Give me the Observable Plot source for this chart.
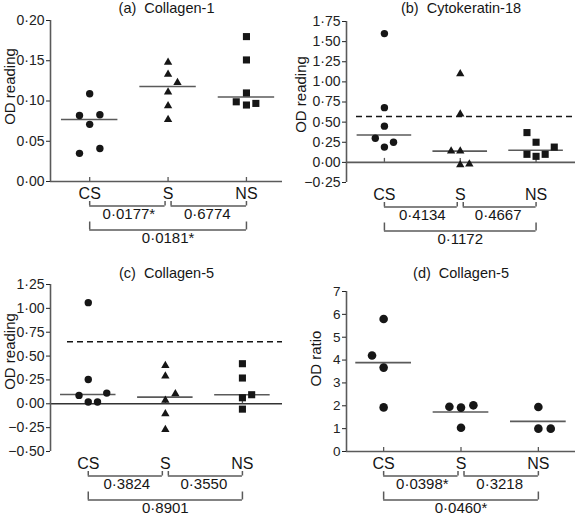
<!DOCTYPE html>
<html><head><meta charset="utf-8">
<script src="https://cdn.jsdelivr.net/npm/d3@7"></script>
<script src="https://cdn.jsdelivr.net/npm/@observablehq/plot@0.6"></script>
<style>
body{margin:0;background:#fff;}
#fig{position:relative;width:577px;height:516px;font-family:"Liberation Sans",Arial,sans-serif;}
.panel{position:absolute;}
.panel svg{display:block;}
</style></head><body><div id="fig"></div>
<script>
// ---------- data ----------
const groups = ["CS", "S", "NS"];
const comparisons = [["CS", "S", 1], ["S", "NS", 1], ["CS", "NS", 2]];

// (a) Collagen-1
const aCS = [0.109, 0.082, 0.083, 0.071, 0.035, 0.041];
const aS  = [0.148, 0.133, 0.123, 0.111, 0.094, 0.077];
const aNS = [0.180, 0.151, 0.110, 0.099, 0.095, 0.097];
const aJitCS = [0, -0.13, 0.13, 0, -0.13, 0.13];
const aJitS  = [0, 0, 0.12, 0, 0, 0];
const aJitNS = [0, 0, 0, -0.13, 0, 0.12];
const aMedians = [0.077, 0.118, 0.105];
const aTicks = [0, 0.05, 0.10, 0.15, 0.20];
const aP = ["0·0177*", "0·6774", "0·0181*"];

// (b) Cytokeratin-18
const bCS = [1.60, 0.68, 0.45, 0.30, 0.25, 0.19];
const bS  = [1.10, 0.60, 0.14, 0.14, -0.03, -0.02];
const bNS = [0.37, 0.25, 0.10, 0.075, 0.10, 0.19];
const bJitCS = [0, 0, 0, -0.12, 0.12, 0];
const bJitS  = [0, 0, -0.12, 0, 0, 0.12];
const bJitNS = [-0.12, 0, -0.12, 0, 0.12, 0.24];
const bMedians = [0.34, 0.14, 0.15];
const bCutoff = 0.57;
const bTicks = [-0.25, 0, 0.25, 0.5, 0.75, 1.0, 1.25, 1.5, 1.75];
const bP = ["0·4134", "0·4667", "0·1172"];

// (c) Collagen-5
const cCS = [1.06, 0.255, 0.088, 0.018, 0.018, 0.112];
const cS  = [0.40, 0.29, 0.105, 0.035, -0.105, -0.27];
const cNS = [0.42, 0.27, 0.063, 0.095, -0.056];
const cJitCS = [0, 0, -0.12, 0, 0.12, 0.24];
const cJitS  = [0, 0, 0.13, 0, 0, 0];
const cJitNS = [0, 0, 0, 0.12, 0];
const cMedians = [0.098, 0.07, 0.094];
const cCutoff = 0.65;
const cTicks = [-0.5, -0.25, 0, 0.25, 0.5, 0.75, 1.0, 1.25];
const cP = ["0·3824", "0·3550", "0·8901"];

// (d) Collagen-5 ratio
const dCS = [5.80, 4.20, 3.67, 1.93];
const dS  = [1.96, 1.92, 2.02, 1.04];
const dNS = [1.95, 1.0, 1.0];
const dJitCS = [0, -0.15, 0, 0];
const dJitS  = [-0.15, 0, 0.16, 0];
const dJitNS = [0, 0, 0.16];
const dMeans = [3.89, 1.73, 1.32];
const dTicks = [0, 1, 2, 3, 4, 5, 6, 7];
const dP = ["0·0398*", "0·3218", "0·0460*"];

// ---------- drawing ----------
const INK = "#161616", AX = "#5a5a5a";
const fmtDec = d => d.toFixed(2).replace(".", "·").replace("-", "−");
const fmtInt = d => String(d);

function rows(values, jitter) {
  return values.flatMap((vals, g) => vals.map((v, k) => ({g, v, j: jitter[g][k]})));
}

function panel(o) {
  const pts = rows(o.values, o.jitter);
  const y0 = o.yDomain[0];
  const frameMidY = (o.mt + (o.height - o.mb)) / 2;
  const marks = [];
  // baseline / zero line
  marks.push(Plot.ruleY([0], {stroke: o.zeroColor || AX, strokeWidth: 1.6}));
  if (o.cutoff != null) marks.push(Plot.ruleY([o.cutoff], {stroke: INK, strokeWidth: 1.7, strokeDasharray: "6,4", insetLeft: o.dashInset}));
  // y axis line + ticks + labels
  marks.push(Plot.ruleX([o.xDomain[0]], {stroke: AX, strokeWidth: 1.6}));
  marks.push(Plot.axisY({ticks: o.ticks, tickFormat: o.fmt, tickSize: 4, tickPadding: 2, fontSize: o.tickFont, label: null, color: "#222"}));
  // x ticks (pointing up, at zero)
  marks.push(Plot.ruleX(groups.map((g, i) => i), {x: d => d, y1: 0, y2: 0, insetTop: -4, stroke: AX, strokeWidth: 1.3}));
  // category labels
  marks.push(Plot.text(groups, {x: (d, i) => i, y: y0, dy: 12, fontSize: 16, fill: INK}));
  // center lines
  marks.push(Plot.ruleY(o.centers, {y: d => d, x1: (d, i) => i - 0.36, x2: (d, i) => i + 0.36, stroke: AX, strokeWidth: 1.6}));
  // points
  groups.forEach((g, gi) => {
    const sym = o.symbols[gi];
    const r = sym === "triangle" ? 3.1 : sym === "square" ? 4.0 : o.dotR;
    marks.push(Plot.dot(pts.filter(d => d.g === gi), {x: d => d.g + d.j, y: "v", symbol: sym, r, fill: INK, stroke: "none"}));
  });
  // brackets with p values
  comparisons.forEach(([a, b, level], k) => {
    const i = groups.indexOf(a), j = groups.indexOf(b);
    const lineDy = level === 1 ? 24.5 : 48.5;
    const tick = level === 1 ? 4.5 : 8;
    const inL = a === "S" ? 3 : 0, inR = b === "S" ? 3 : 0;
    marks.push(Plot.ruleY([k], {y: y0, x1: () => i, x2: () => j, dy: lineDy, insetLeft: inL, insetRight: inR, stroke: AX, strokeWidth: 1.5}));
    marks.push(Plot.ruleX([i], {x: d => d, y1: y0, y2: y0, dy: lineDy, dx: inL, insetTop: -tick, stroke: AX, strokeWidth: 1.5}));
    marks.push(Plot.ruleX([j], {x: d => d, y1: y0, y2: y0, dy: lineDy, dx: -inR, insetTop: -tick, stroke: AX, strokeWidth: 1.5}));
    marks.push(Plot.text([o.pvals[k]], {x: () => (i + j) / 2, y: y0, dy: level === 1 ? 33 : 57, fontSize: 15, fill: INK}));
  });
  // title
  marks.push(Plot.text([o.title], {frameAnchor: "top", lineAnchor: "middle", textAnchor: "middle", dy: o.titleY - o.mt, fontSize: 14.5, fill: INK}));
  // y label
  marks.push(Plot.text([o.yLabel], {frameAnchor: "left", textAnchor: "middle", lineAnchor: "middle", rotate: -90, dx: o.labelX - o.ml, dy: o.labelY - frameMidY, fontSize: 15, fill: INK}));

  const chart = Plot.plot({
    width: o.width, height: o.height,
    marginLeft: o.ml, marginRight: o.mr, marginTop: o.mt, marginBottom: o.mb,
    x: {type: "linear", domain: o.xDomain, axis: null},
    y: {type: "linear", domain: o.yDomain},
    style: {fontFamily: "'Liberation Sans', Arial, sans-serif", fontSize: o.tickFont + "px", background: "white", overflow: "visible"},
    marks
  });
  const div = document.createElement("div");
  div.className = "panel";
  div.style.left = o.left + "px";
  div.style.top = o.top + "px";
  div.appendChild(chart);
  document.getElementById("fig").appendChild(div);
}

panel({left: 0, top: 0, width: 288, height: 258, ml: 50, mr: 6, mt: 20, mb: 77,
  xDomain: [-0.5, 2.46], yDomain: [0, 0.20], ticks: aTicks, fmt: fmtDec, tickFont: 14,
  values: [aCS, aS, aNS], jitter: [aJitCS, aJitS, aJitNS], centers: aMedians,
  symbols: ["circle", "triangle", "square"], dotR: 3.7, pvals: aP,
  title: "(a)  Collagen-1", titleY: 8, yLabel: "OD reading", labelX: 10, labelY: 86});

panel({left: 288, top: 0, width: 289, height: 258, ml: 58, mr: 2, mt: 21, mb: 76,
  xDomain: [-0.5, 2.52], yDomain: [-0.25, 1.75], ticks: bTicks, fmt: fmtDec, tickFont: 14,
  values: [bCS, bS, bNS], jitter: [bJitCS, bJitS, bJitNS], centers: bMedians,
  cutoff: bCutoff, dashInset: 10,
  symbols: ["circle", "triangle", "square"], dotR: 3.7, pvals: bP,
  title: "(b)  Cytokeratin-18", titleY: 8, yLabel: "OD reading", labelX: 13, labelY: 94});

panel({left: 0, top: 258, width: 288, height: 258, ml: 50, mr: 6, mt: 26, mb: 65,
  xDomain: [-0.49, 2.52], yDomain: [-0.5, 1.25], ticks: cTicks, fmt: fmtDec, tickFont: 14,
  values: [cCS, cS, cNS], jitter: [cJitCS, cJitS, cJitNS], centers: cMedians,
  cutoff: cCutoff, dashInset: 17, zeroColor: "#333",
  symbols: ["circle", "triangle", "square"], dotR: 3.7, pvals: cP,
  title: "(c)  Collagen-5", titleY: 15, yLabel: "OD reading", labelX: 10, labelY: 93});

panel({left: 288, top: 258, width: 289, height: 258, ml: 58, mr: 2, mt: 33, mb: 65,
  xDomain: [-0.48, 2.48], yDomain: [0, 7], ticks: dTicks, fmt: fmtInt, tickFont: 13.5,
  values: [dCS, dS, dNS], jitter: [dJitCS, dJitS, dJitNS], centers: dMeans,
  symbols: ["circle", "circle", "circle"], dotR: 4.3, pvals: dP,
  title: "(d)  Collagen-5", titleY: 15, yLabel: "OD ratio", labelX: 28, labelY: 100});
</script>
</body></html>
